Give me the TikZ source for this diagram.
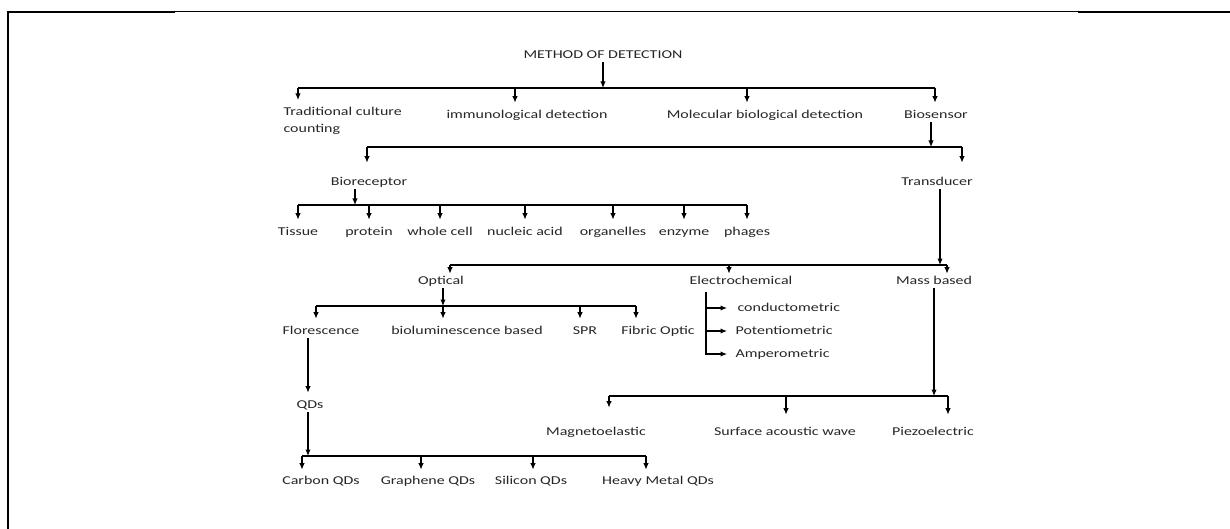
\documentclass[tikz,border=0pt]{standalone}
\usepackage{fontspec}
\setmainfont{Carlito}[FakeStretch=1.33]
\usetikzlibrary{arrows.meta}

\tikzset{
    txt/.style={font=\fontsize{12}{16.5}\selectfont,inner sep=1pt,text=black!85},
    lbl/.style={txt,text height=9pt,text depth=2.5pt},
    tip/.style={shorten >=5pt},
}

\begin{document}
\begin{tikzpicture}[x=1pt,y=-1pt,line width=1.2pt,>={Latex[length=6.5pt,width=5.5pt]}]
        \useasboundingbox (0,0) rectangle (1230,529);
        % page frame
        \draw[line width=2pt] (8,529) -- (8,12) -- (175,12);
        \draw[line width=1pt] (175,12) -- (1078,12);
        \draw[line width=2pt] (1078,12) -- (1230,12);

        % first level
        \node[lbl] (M) at (603,55) {METHOD OF DETECTION};
        \node[txt,align=left,anchor=north west] (trad) at (282,106) {Traditional culture\\counting};
        \node[lbl] (imm) at (527,115) {immunological detection};
        \node[lbl] (mol) at (765,115) {Molecular biological detection};
        \node[lbl] (bios) at (936,115) {Biosensor};
        \coordinate (m1) at (298,88);
        \coordinate (m2) at (515,88);
        \coordinate (m3) at (747,88);
        \coordinate (m4) at (935,88);
        \draw[->] (M) -- (M |- m1);
        \draw (m1) -- (m4);
        \draw[->,shorten >=6pt] (m1) -- (m1 |- trad.north);
        \draw[->,tip] (m2) -- (m2 |- imm.north);
        \draw[->,tip] (m3) -- (m3 |- mol.north);
        \draw[->,tip] (m4) -- (m4 |- bios.north);

        % biosensor
        \node[lbl] (brec) at (369,182) {Bioreceptor};
        \node[lbl] (trans) at (937,182) {Transducer};
        \coordinate (s0) at (931,147);
        \coordinate (s1) at (367,147);
        \coordinate (s2) at (962,147);
        \draw[->] (s0 |- bios.south) -- (s0);
        \draw (s1) -- (s2);
        \draw[->,shorten >=12pt] (s1) -- (s1 |- brec.north);
        \draw[->,shorten >=12pt] (s2) -- (s2 |- trans.north);

        % bioreceptor
        \node[lbl] (tis) at (298,232) {Tissue};
        \node[lbl] (pro) at (369,232) {protein};
        \node[lbl] (who) at (440,232) {whole cell};
        \node[lbl] (nuc) at (525,232) {nucleic acid};
        \node[lbl] (org) at (613,232) {organelles};
        \node[lbl] (enz) at (684,232) {enzyme};
        \node[lbl] (pha) at (747,232) {phages};
        \coordinate (r0) at (355,205);
        \draw[->] (r0 |- brec.south) -- (r0);
        \draw (tis.north |- r0) -- (pha.north |- r0);
        \draw[->,tip] (tis.north |- r0) -- (tis.north);
        \draw[->,tip] (pro.north |- r0) -- (pro.north);
        \draw[->,tip] (who.north |- r0) -- (who.north);
        \draw[->,tip] (nuc.north |- r0) -- (nuc.north);
        \draw[->,tip] (org.north |- r0) -- (org.north);
        \draw[->,tip] (enz.north |- r0) -- (enz.north);
        \draw[->,tip] (pha.north |- r0) -- (pha.north);

        % transducer
        \node[lbl] (opt) at (441,281) {Optical};
        \node[lbl] (ele) at (741,281) {Electrochemical};
        \node[lbl] (mas) at (934,281) {Mass based};
        \coordinate (d0) at (940,265);
        \coordinate (d1) at (450,265);
        \coordinate (d2) at (729,265);
        \coordinate (d3) at (947,265);
        \draw[->] (d0 |- trans.south) -- (d0);
        \draw (d1) -- (d3);
        \draw[->] (d1) -- (d1 |- opt.north);
        \draw[->] (d2) -- (d2 |- ele.north);
        \draw[->] (d3) -- (d3 |- mas.north);

        % optical
        \node[lbl] (flo) at (321,331) {Florescence};
        \node[lbl] (biol) at (467,331) {bioluminescence based};
        \node[lbl] (spr) at (585,331) {SPR};
        \node[lbl] (fib) at (658,331) {Fibric Optic};
        \coordinate (p1) at (316,306);
        \coordinate (p2) at (443,306);
        \coordinate (p3) at (580,306);
        \coordinate (p4) at (636,306);
        \draw[->] (p2 |- opt.south) -- (p2);
        \draw (p1) -- (p4);
        \draw[->,tip] (p1) -- (p1 |- flo.north);
        \draw[->,tip] (p2) -- (p2 |- biol.north);
        \draw[->,tip] (p3) -- (p3 |- spr.north);
        \draw[->,tip] (p4) -- (p4 |- fib.north);

        % electrochemical
        \node[lbl,anchor=west] (con) at (736,308) {conductometric};
        \node[lbl,anchor=west] (pot) at (734,331) {Potentiometric};
        \node[lbl,anchor=west] (amp) at (734,354) {Amperometric};
        \coordinate (e0) at (706,292);
        \draw[->,shorten >=7pt] (e0) |- (amp.west);
        \draw[->,shorten >=9pt] (e0 |- con.west) -- (con.west);
        \draw[->,shorten >=7pt] (e0 |- pot.west) -- (pot.west);

        % mass based
        \node[lbl] (mag) at (596,432) {Magnetoelastic};
        \node[lbl] (saw) at (785,432) {Surface acoustic wave};
        \node[lbl] (pie) at (933,432) {Piezoelectric};
        \coordinate (q0) at (934,396);
        \coordinate (q1) at (609,396);
        \coordinate (q2) at (786,396);
        \coordinate (q3) at (948,396);
        \draw[->] (q0 |- mas.south) -- (q0);
        \draw (q1) -- (q3);
        \draw[->,shorten >=17pt] (q1) -- (q1 |- mag.north);
        \draw[->,shorten >=10pt] (q2) -- (q2 |- saw.north);
        \draw[->,shorten >=10pt] (q3) -- (q3 |- pie.north);

        % florescence
        \node[lbl] (qd) at (310,405) {QDs};
        \node[lbl] (cqd) at (321,481) {Carbon QDs};
        \node[lbl] (gqd) at (428,481) {Graphene QDs};
        \node[lbl] (sqd) at (531,481) {Silicon QDs};
        \node[lbl] (hqd) at (658,481) {Heavy Metal QDs};
        \coordinate (k0) at (308,456);
        \coordinate (k1) at (302,456);
        \coordinate (k2) at (421,456);
        \coordinate (k3) at (533,456);
        \coordinate (k4) at (646,456);
        \draw[->,tip] (k0 |- flo.south) -- (k0 |- qd.north);
        \draw[->] (k0 |- qd.south) -- (k0);
        \draw (k1) -- (k4);
        \draw[->,shorten >=4pt] (k1) -- (k1 |- cqd.north);
        \draw[->,shorten >=4pt] (k2) -- (k2 |- gqd.north);
        \draw[->,shorten >=4pt] (k3) -- (k3 |- sqd.north);
        \draw[->,shorten >=4pt] (k4) -- (k4 |- hqd.north);
\end{tikzpicture}
\end{document}
